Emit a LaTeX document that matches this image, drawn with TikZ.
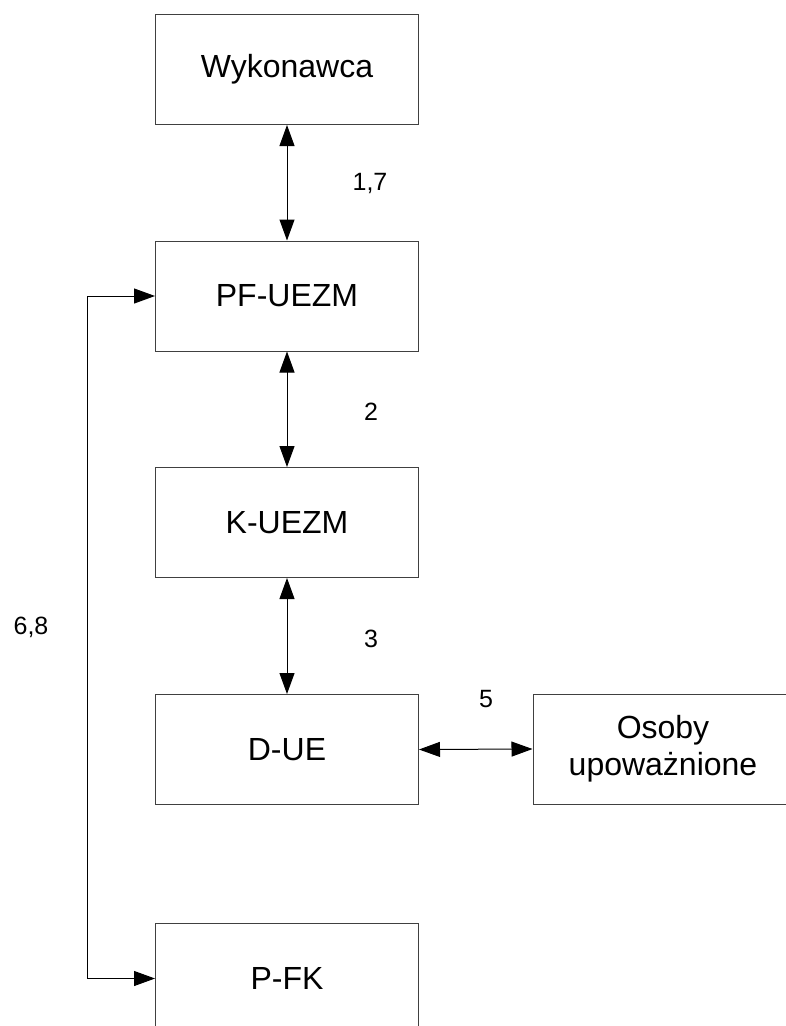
\documentclass[tikz,border=0pt]{standalone}
\usepackage{fontspec}
\setmainfont{Liberation Sans}
\usetikzlibrary{arrows.meta}
\begin{document}
\begin{tikzpicture}[x=1pt,y=-1pt,
  box/.style={draw=black!75,line width=1pt,rectangle,minimum width=263pt,minimum height=110pt,inner sep=0pt,font=\fontsize{32}{37}\selectfont,align=center},
  lbl/.style={font=\fontsize{25}{29}\selectfont,inner sep=0pt},
  conn/.style={line width=1pt,{Triangle[length=21pt,width=15pt]}-{Triangle[length=21pt,width=15pt]}}]
\useasboundingbox (0,0) rectangle (786,1026);
\clip (0,0) rectangle (786,1026);
\fill[white] (0,0) rectangle (786,1026);
\node[box] (wyk) at (287,69.5) {Wykonawca};
\node[box] (pf) at (287,296) {PF-UEZM};
\node[box] (k) at (287,522.5) {K-UEZM};
\node[box] (d) at (287,749.5) {D-UE};
\node[box,minimum width=260pt] (os) at (663,749) {Osoby\\upoważnione};
\node[box] (pfk) at (287,978.5) {P-FK};
\coordinate (lft) at (87,296);
\draw[conn] (wyk.south) -- (pf.north);
\draw[conn] (pf.south) -- (k.north);
\draw[conn] (k.south) -- (d.north);
\draw[conn] (d.east) -- (os.west);
\draw[conn] (pf.west) -- (lft) |- (pfk.west);
\node[lbl] (l17) at (370,183) {1,7};
\node[lbl] (l2) at (371,412) {2};
\node[lbl] (l3) at (371,639) {3};
\node[lbl] (l5) at (486,699) {5};
\node[lbl] (l68) at (31,627) {6,8};
\end{tikzpicture}
\end{document}
